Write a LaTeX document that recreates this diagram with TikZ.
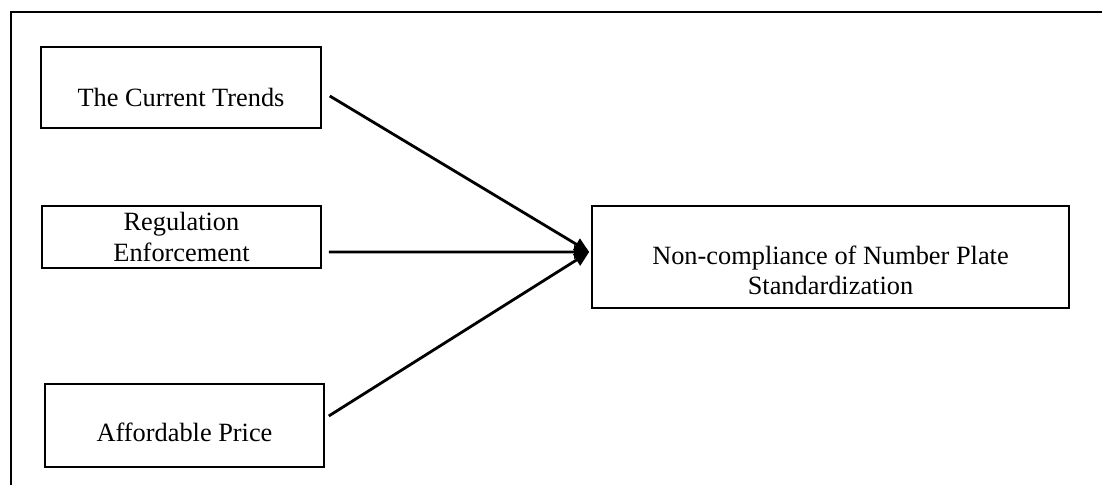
\documentclass[tikz,border=0pt]{standalone}
\usepackage{fontspec}
\setmainfont{Liberation Serif}
\usetikzlibrary{arrows.meta,calc}
\tikzset{
  caja/.style={draw, line width=0.9pt, inner sep=0pt, font=\fontsize{15pt}{17.5pt}\selectfont},
  flecha/.style={line width=1.6pt, -{Triangle[length=3mm,width=2.6mm]}}
}
\begin{document}
\begin{tikzpicture}
    \useasboundingbox (0,0) rectangle (22.04,9.70);

    % marco
    \draw[line width=1.1pt] (0.22,0) -- (0.22,9.46) -- (22.04,9.46);

    % factores
    \node[caja, minimum width=5.6cm, text height=1.2cm, text depth=0.42cm] (tendencias) at (3.62,7.95) {The Current Trends};
    \node[caja, minimum width=5.58cm, minimum height=1.24cm, align=center] (regulacion) at (3.63,4.96) {Regulation\\Enforcement};
    \node[caja, minimum width=5.58cm, text height=1.16cm, text depth=0.5cm] (precio) at (3.69,1.19) {Affordable Price};

    % resultado
    \node[caja, minimum width=9.54cm, text height=1.78cm, text depth=0.26cm, align=center] (incumplimiento) at (16.61,4.56) {Non-compliance of Number Plate\\Standardization};

    % flechas
    \coordinate (meta) at ($(incumplimiento.west)+(-0.04,0.1)$);
    \draw[flecha] ($(tendencias.east)+(0.16,-0.17)$) -- (meta);
    \draw[flecha] ($(regulacion.east)+(0.14,-0.3)$) -- (meta);
    \draw[flecha] ($(precio.east)+(0.08,0.19)$) -- (meta);
\end{tikzpicture}
\end{document}
